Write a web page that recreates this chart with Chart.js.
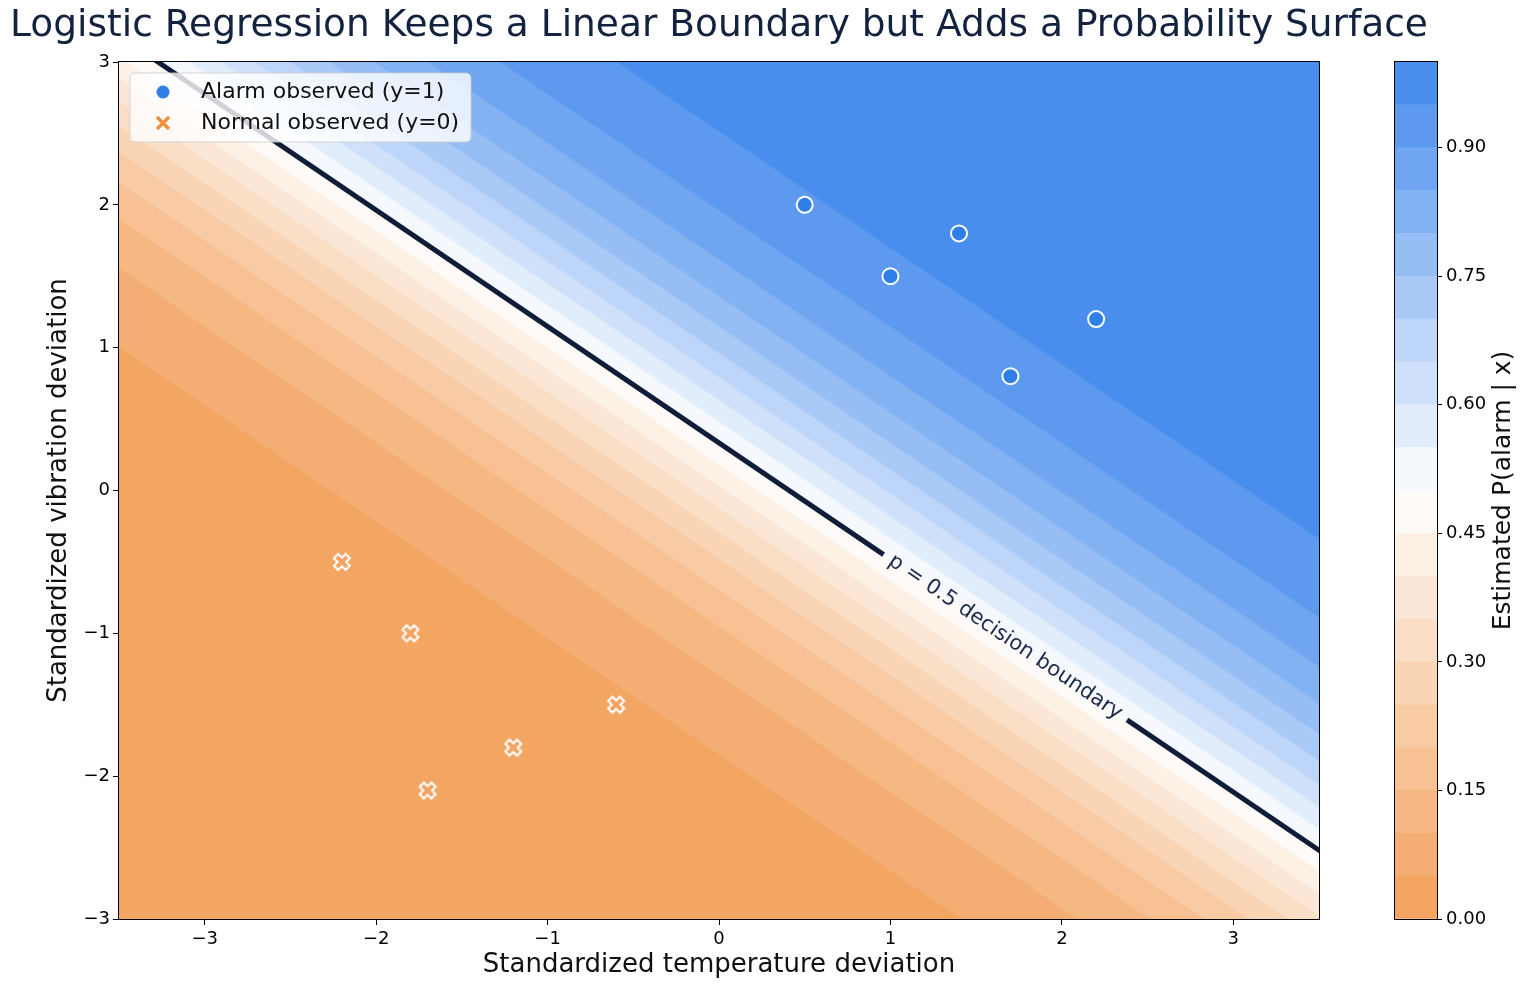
<!DOCTYPE html>
<html>
<head>
<meta charset="utf-8">
<script src="https://cdn.jsdelivr.net/npm/chart.js@4.4.1/dist/chart.umd.min.js"></script>
<style>
    html, body { margin: 0; padding: 0; background: #fff; }
    #wrap { position: relative; width: 1530px; height: 989px; }
    #main { position: absolute; left: 0; top: 0; }
    #cbar { position: absolute; left: 1380px; top: 0; }
</style>
</head>
<body>
<div id="wrap">
    <canvas id="main" width="1438" height="989"></canvas>
    <canvas id="cbar" width="150" height="989"></canvas>
</div>
<script>
// Observed points
const alarmTemp = [0.5, 1.0, 1.4, 1.7, 2.2];
const alarmVib = [2.0, 1.5, 1.8, 0.8, 1.2];
const normalTemp = [-2.2, -1.8, -0.6, -1.2, -1.7];
const normalVib = [-0.5, -1.0, -1.5, -1.8, -2.1];

// Fitted logistic model: logit = coefTemp * x + coefVib * y + intercept
const coefTemp = 1.10;
const coefVib = 1.35;
const intercept = -0.45;

// Contour levels of the probability surface
const probLevels = [0.00, 0.05, 0.10, 0.15, 0.20, 0.25, 0.30, 0.35, 0.40, 0.45, 0.50,
                    0.55, 0.60, 0.65, 0.70, 0.75, 0.80, 0.85, 0.90, 0.95, 1.00];

// Axis ticks
const xTicks = [-3, -2, -1, 0, 1, 2, 3];
const yTicks = [-3, -2, -1, 0, 1, 2, 3];
const colorbarTicks = [0.00, 0.15, 0.30, 0.45, 0.60, 0.75, 0.90];
const xRange = [-3.5, 3.5];
const yRange = [-3, 3];

// Where the contour label sits on the p = 0.5 line (temperature value)
const labelTemp = 1.67;
const labelGap = 0.71;

// Colours
const lowColor = [242, 160, 90];
const highColor = [64, 136, 236];
const navy = '#0f1d38';

Chart.defaults.font.family = '"DejaVu Sans", sans-serif';
Chart.defaults.color = '#000';

function logit(p) {
    return Math.log(p / (1 - p));
}

// vibration value where the model gives probability p at temperature x
function vibAt(p, x) {
    return (logit(p) - intercept - coefTemp * x) / coefVib;
}

function bandColor(t) {
    let c;
    if (t < 0.5) {
        const f = t / 0.5;
        c = lowColor.map(v => Math.round(v + (255 - v) * f));
    } else {
        const f = (t - 0.5) / 0.5;
        c = highColor.map(v => Math.round(255 + (v - 255) * f));
    }
    return `rgb(${c[0]},${c[1]},${c[2]})`;
}

const bandColors = probLevels.slice(0, -1).map((lo, k) => bandColor((lo + probLevels[k + 1]) / 2));

function makeXMarker(fill) {
    const c = document.createElement('canvas');
    c.width = c.height = 24;
    const g = c.getContext('2d');
    const L = 8.3, a = 3.0;
    const pts = [[a, L], [a, a], [L, a], [L, -a], [a, -a], [a, -L],
                 [-a, -L], [-a, -a], [-L, -a], [-L, a], [-a, a], [-a, L]];
    g.translate(12, 12);
    g.rotate(Math.PI / 4);
    g.beginPath();
    pts.forEach(([px, py], i) => i ? g.lineTo(px, py) : g.moveTo(px, py));
    g.closePath();
    g.fillStyle = fill;
    g.fill();
    g.lineWidth = 2;
    g.strokeStyle = '#fff';
    g.stroke();
    return c;
}

// Datasets
const datasets = [];

datasets.push({
    label: 'Alarm observed (y=1)',
    data: alarmTemp.map((x, i) => ({ x, y: alarmVib[i] })),
    showLine: false,
    pointStyle: 'circle',
    pointRadius: 8,
    pointBackgroundColor: '#2f7fe6',
    pointBorderColor: '#fff',
    pointBorderWidth: 2,
    order: 0
});

datasets.push({
    label: 'Normal observed (y=0)',
    data: normalTemp.map((x, i) => ({ x, y: normalVib[i] })),
    showLine: false,
    pointStyle: makeXMarker('#f4a261'),
    pointRadius: 10,
    order: 0
});

const gapStart = labelTemp - labelGap;
const gapEnd = labelTemp + labelGap;
datasets.push({
    label: 'boundary',
    data: [xRange[0] - 0.5, gapStart, gapEnd, xRange[1] + 0.5].map(x => ({ x, y: vibAt(0.5, x) })),
    borderColor: navy,
    borderWidth: 5,
    borderCapStyle: 'butt',
    pointRadius: 0,
    fill: false,
    segment: {
        borderColor: ctx => ctx.p0DataIndex === 1 ? 'rgba(0,0,0,0)' : undefined
    },
    order: 1
});

// lowest band: painted first, under the top inner level so no seams show
const topInner = probLevels[probLevels.length - 2];
datasets.push({
    label: 'band 0',
    data: [xRange[0] - 0.5, xRange[1] + 0.5].map(x => ({ x, y: vibAt(topInner, x) })),
    borderWidth: 0,
    borderColor: 'rgba(0,0,0,0)',
    backgroundColor: bandColors[0],
    pointRadius: 0,
    fill: 'start',
    order: 200
});

// each inner level fills everything above it; higher levels are painted later
for (let j = 1; j < probLevels.length - 1; j++) {
    datasets.push({
        label: 'band ' + j,
        data: [xRange[0] - 0.5, xRange[1] + 0.5].map(x => ({ x, y: vibAt(probLevels[j], x) })),
        borderWidth: 0,
        borderColor: 'rgba(0,0,0,0)',
        backgroundColor: bandColors[j],
        pointRadius: 0,
        fill: 'end',
        order: 100 - j
    });
}

function minusLabel(v) {
    return v < 0 ? '\u2212' + Math.abs(v) : String(v);
}

// Plugins
const plotTitle = {
    id: 'plotTitle',
    afterDraw(chart) {
        const { ctx, chartArea } = chart;
        ctx.save();
        ctx.font = '37.5px "DejaVu Sans"';
        ctx.fillStyle = '#13233f';
        ctx.textAlign = 'center';
        ctx.textBaseline = 'middle';
        ctx.fillText('Logistic Regression Keeps a Linear Boundary but Adds a Probability Surface',
            (chartArea.left + chartArea.right) / 2, 26);
        ctx.restore();
    }
};

const frame = {
    id: 'frame',
    afterDraw(chart) {
        const { ctx, chartArea: a } = chart;
        ctx.save();
        ctx.strokeStyle = '#000';
        ctx.lineWidth = 1;
        ctx.strokeRect(Math.round(a.left) - 0.5, Math.round(a.top) - 0.5, a.right - a.left + 1, a.bottom - a.top + 1);
        ctx.restore();
    }
};

const boundaryLabel = {
    id: 'boundaryLabel',
    afterDatasetsDraw(chart) {
        const { ctx, scales: { x, y } } = chart;
        const px = x.getPixelForValue(labelTemp);
        const py = y.getPixelForValue(vibAt(0.5, labelTemp));
        const px2 = x.getPixelForValue(labelTemp + 1);
        const py2 = y.getPixelForValue(vibAt(0.5, labelTemp + 1));
        ctx.save();
        ctx.translate(px, py);
        ctx.rotate(Math.atan2(py2 - py, px2 - px));
        ctx.font = '21px "DejaVu Sans"';
        ctx.fillStyle = '#1b2a4a';
        ctx.textAlign = 'center';
        ctx.textBaseline = 'middle';
        ctx.fillText('p = 0.5 decision boundary', 0, 0);
        ctx.restore();
    }
};

const insideLegend = {
    id: 'insideLegend',
    afterDraw(chart) {
        const { ctx, chartArea: a } = chart;
        const left = a.left + 11, top = a.top + 11, w = 341, h = 69, r = 5;
        ctx.save();
        ctx.beginPath();
        ctx.roundRect(left, top, w, h, r);
        ctx.fillStyle = 'rgba(255,255,255,0.8)';
        ctx.fill();
        ctx.strokeStyle = 'rgba(204,204,204,0.8)';
        ctx.lineWidth = 1;
        ctx.stroke();

        // alarm marker
        ctx.beginPath();
        ctx.arc(left + 33, top + 19, 6.5, 0, Math.PI * 2);
        ctx.fillStyle = '#2f7fe6';
        ctx.fill();

        // normal marker
        ctx.beginPath();
        const cx = left + 33, cy = top + 50, s = 6;
        ctx.moveTo(cx - s, cy - s); ctx.lineTo(cx + s, cy + s);
        ctx.moveTo(cx - s, cy + s); ctx.lineTo(cx + s, cy - s);
        ctx.strokeStyle = '#f28e3b';
        ctx.lineWidth = 3.2;
        ctx.stroke();

        ctx.font = '22px "DejaVu Sans"';
        ctx.fillStyle = '#111';
        ctx.textAlign = 'left';
        ctx.textBaseline = 'middle';
        ctx.fillText(chart.data.datasets[0].label, left + 71, top + 19);
        ctx.fillText(chart.data.datasets[1].label, left + 71, top + 50);
        ctx.restore();
    }
};

new Chart(document.getElementById('main'), {
    type: 'line',
    data: { datasets },
    options: {
        responsive: false,
        animation: false,
        layout: { padding: { top: 62, left: 20, right: 119, bottom: 0 } },
        plugins: {
            legend: { display: false },
            title: { display: false },
            tooltip: { enabled: false }
        },
        scales: {
            x: {
                type: 'linear',
                min: xRange[0],
                max: xRange[1],
                z: 1,
                afterBuildTicks: s => { s.ticks = xTicks.map(v => ({ value: v })); },
                afterFit: s => { s.height = 70; },
                ticks: { font: { size: 18 }, padding: 4, callback: minusLabel, maxRotation: 0 },
                grid: { color: 'rgba(176,176,176,0.3)', tickColor: '#000', tickLength: 6 },
                border: { color: '#000' },
                title: {
                    display: true,
                    text: 'Standardized temperature deviation',
                    font: { size: 26 },
                    color: '#111',
                    padding: { top: 0, bottom: 8 }
                }
            },
            y: {
                type: 'linear',
                min: yRange[0],
                max: yRange[1],
                z: 1,
                afterBuildTicks: s => { s.ticks = yTicks.map(v => ({ value: v })); },
                afterFit: s => { s.width = 99; },
                ticks: { font: { size: 18 }, padding: 3, callback: minusLabel },
                grid: { color: 'rgba(176,176,176,0.3)', tickColor: '#000', tickLength: 6 },
                border: { color: '#000' },
                title: {
                    display: true,
                    text: 'Standardized vibration deviation',
                    font: { size: 26 },
                    color: '#111',
                    padding: { top: 24, bottom: 0 }
                }
            }
        }
    },
    plugins: [boundaryLabel, frame, insideLegend, plotTitle]
});

// Colour bar
const cbarOutline = {
    id: 'cbarOutline',
    afterDraw(chart) {
        const { ctx, chartArea: a } = chart;
        ctx.save();
        ctx.strokeStyle = '#000';
        ctx.lineWidth = 1;
        ctx.strokeRect(Math.round(a.left) - 0.5, Math.round(a.top) - 0.5, a.right - a.left + 1, a.bottom - a.top + 1);
        ctx.translate(123, (a.top + a.bottom) / 2);
        ctx.rotate(-Math.PI / 2);
        ctx.font = '25px "DejaVu Sans"';
        ctx.fillStyle = '#111';
        ctx.textAlign = 'center';
        ctx.textBaseline = 'middle';
        ctx.fillText('Estimated P(alarm | x)', 0, 0);
        ctx.restore();
    }
};

new Chart(document.getElementById('cbar'), {
    type: 'bar',
    data: {
        labels: ['p'],
        datasets: bandColors.map((color, k) => ({
            data: [[probLevels[k], probLevels[k + 1]]],
            backgroundColor: color,
            borderWidth: 0,
            grouped: false,
            barPercentage: 1,
            categoryPercentage: 1
        }))
    },
    options: {
        responsive: false,
        animation: false,
        layout: { padding: { top: 62, left: 15, right: 0, bottom: 70 } },
        plugins: { legend: { display: false }, tooltip: { enabled: false } },
        scales: {
            x: { display: false },
            y: {
                position: 'right',
                min: 0,
                max: 1,
                afterBuildTicks: s => { s.ticks = colorbarTicks.map(v => ({ value: v })); },
                afterFit: s => { s.width = 93; },
                ticks: { font: { size: 18 }, padding: 4, callback: v => v.toFixed(2) },
                grid: { drawOnChartArea: false, tickColor: '#000', tickLength: 5 },
                border: { color: '#000' }
            }
        }
    },
    plugins: [cbarOutline]
});
</script>
</body>
</html>
